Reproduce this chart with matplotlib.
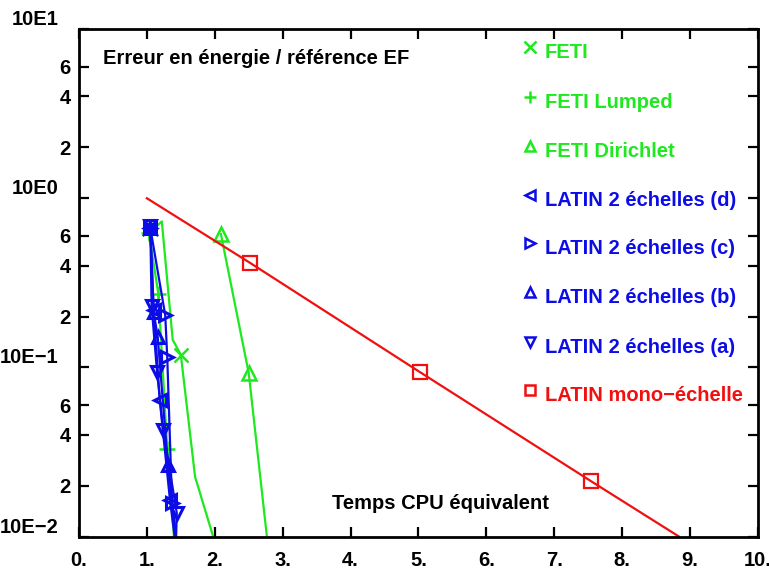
import matplotlib
matplotlib.use("Agg")
import matplotlib.pyplot as plt
from matplotlib.ticker import FixedLocator

plt.rcParams['font.family'] = ['Liberation Sans', 'DejaVu Sans']
plt.rcParams['font.weight'] = 'bold'
plt.rcParams['font.size'] = 14.5

GREEN = '#1ee81e'
BLUE = '#0c0ce6'
RED = '#f01010'

# ---- data ----
feti_x = [1.03, 1.22, 1.38, 1.50, 1.71, 1.98]
feti_y = [0.62, 0.73, 0.146, 0.119, 0.0226, 0.0099]

lumped_x = [1.03, 1.17, 1.30, 1.40]
lumped_y = [0.62, 0.271, 0.033, 0.0099]

dirichlet_x = [2.09, 2.50, 2.77]
dirichlet_y = [0.615, 0.0927, 0.0098]

latin_d_x = [1.05, 1.10, 1.19, 1.34, 1.41]
latin_d_y = [0.67, 0.219, 0.064, 0.0165, 0.0099]

latin_c_x = [1.05, 1.27, 1.30, 1.37, 1.43]
latin_c_y = [0.67, 0.204, 0.115, 0.0158, 0.0099]

latin_b_x = [1.05, 1.10, 1.16, 1.31, 1.43]
latin_b_y = [0.67, 0.213, 0.151, 0.0265, 0.0099]

latin_a_x = [1.05, 1.07, 1.15, 1.24, 1.44, 1.43]
latin_a_y = [0.685, 0.23, 0.094, 0.043, 0.0138, 0.0099]

mono_x = [1.0, 2.52, 5.02, 7.54, 8.84]
mono_y = [1.0, 0.415, 0.094, 0.0213, 0.01]

x_ticks = [0, 1, 2, 3, 4, 5, 6, 7, 8, 9, 10]
x_tick_labels = ['0.', '1.', '2.', '3.', '4.', '5.', '6.', '7.', '8.', '9.', '10.']
y_major = [0.01, 0.1, 1, 10]
y_major_labels = ['10E\u22122', '10E\u22121', '10E0', '10E1']
y_minor = [0.02, 0.04, 0.06, 0.2, 0.4, 0.6, 2, 4, 6]
y_minor_labels = ['2', '4', '6', '2', '4', '6', '2', '4', '6']

legend_labels = ['FETI', 'FETI Lumped', 'FETI Dirichlet',
                 'LATIN 2 \u00e9chelles (d)', 'LATIN 2 \u00e9chelles (c)',
                 'LATIN 2 \u00e9chelles (b)', 'LATIN 2 \u00e9chelles (a)',
                 'LATIN mono\u2212\u00e9chelle']

# ---- figure ----
fig = plt.figure(figsize=(7.69, 5.77), dpi=100)
ax = fig.add_axes([0.1027, 0.0698, 0.8830, 0.8799])
ax.set_yscale('log')
ax.set_xlim(0, 10)
ax.set_ylim(0.01, 10)

lw = 1.6
ax.plot(feti_x, feti_y, color=GREEN, lw=lw, marker='x', ms=10, mew=1.8, markevery=[3])
ax.plot(lumped_x, lumped_y, color=GREEN, lw=lw, marker='+', ms=11, mew=1.8, markevery=[0, 1, 2])
ax.plot(dirichlet_x, dirichlet_y, color=GREEN, lw=lw, marker='^', ms=10, mew=1.8,
        mfc='none', markevery=[0, 1])
ax.plot(latin_d_x, latin_d_y, color=BLUE, lw=lw, marker='<', ms=8, mew=2.2, mfc='none', markevery=[0, 1, 2, 3])
ax.plot(latin_c_x, latin_c_y, color=BLUE, lw=lw, marker='>', ms=8, mew=2.2, mfc='none', markevery=[0, 1, 2, 3])
ax.plot(latin_b_x, latin_b_y, color=BLUE, lw=lw, marker='^', ms=8, mew=2.2, mfc='none', markevery=[0, 1, 2, 3])
ax.plot(latin_a_x, latin_a_y, color=BLUE, lw=lw, marker='v', ms=8, mew=2.2, mfc='none', markevery=[0, 1, 2, 3, 4])
ax.plot(mono_x, mono_y, color=RED, lw=lw, marker='s', ms=10, mew=1.6, mfc='none', markevery=[1, 2, 3])

# ticks
ax.set_xticks(x_ticks)
ax.set_xticklabels(x_tick_labels)
ax.set_yticks(y_major)
ax.set_yticklabels(y_major_labels)
ax.set_yticks(y_minor, minor=True)
ax.set_yticklabels(y_minor_labels, minor=True)
ax.xaxis.set_minor_locator(FixedLocator([]))

ax.tick_params(which='both', direction='in', top=True, right=True,
               labeltop=False, labelright=False, width=1.6, length=7,
               labelsize=14.5)
ax.tick_params(axis='x', which='major', pad=10)
ax.tick_params(axis='y', which='major', pad=15)
ax.tick_params(axis='y', which='minor', pad=6)
for t in ax.yaxis.get_major_ticks():
    t.label1.set_verticalalignment('bottom')

for sp in ax.spines.values():
    sp.set_linewidth(2)

# annotations
ax.text(0.035, 0.941, 'Erreur en \u00e9nergie / r\u00e9f\u00e9rence EF',
        transform=ax.transAxes, ha='left', va='center', fontsize=14.5, fontweight='bold')
ax.text(0.3726, 0.0664, 'Temps CPU \u00e9quivalent',
        transform=ax.transAxes, ha='left', va='center', fontsize=14.5, fontweight='bold')

# custom legend
leg_markers = ['x', '+', '^', '<', '>', '^', 'v', 's']
leg_colors = [GREEN, GREEN, GREEN, BLUE, BLUE, BLUE, BLUE, RED]
leg_y = [0.9547, 0.8562, 0.7597, 0.6632, 0.5686, 0.4721, 0.3736, 0.2791]
for lab, mk, col, yy in zip(legend_labels, leg_markers, leg_colors, leg_y):
    ax.plot([0.664], [yy + 0.01], transform=ax.transAxes, marker=mk, color=col,
            ms=8 if mk in 'x+' else 7, mew=1.8, mfc='none', ls='none', clip_on=False)
    ax.text(0.686, yy, lab, transform=ax.transAxes, color=col, ha='left',
            va='center', fontsize=14.5, fontweight='bold')

fig.savefig('out.png', dpi=100)
